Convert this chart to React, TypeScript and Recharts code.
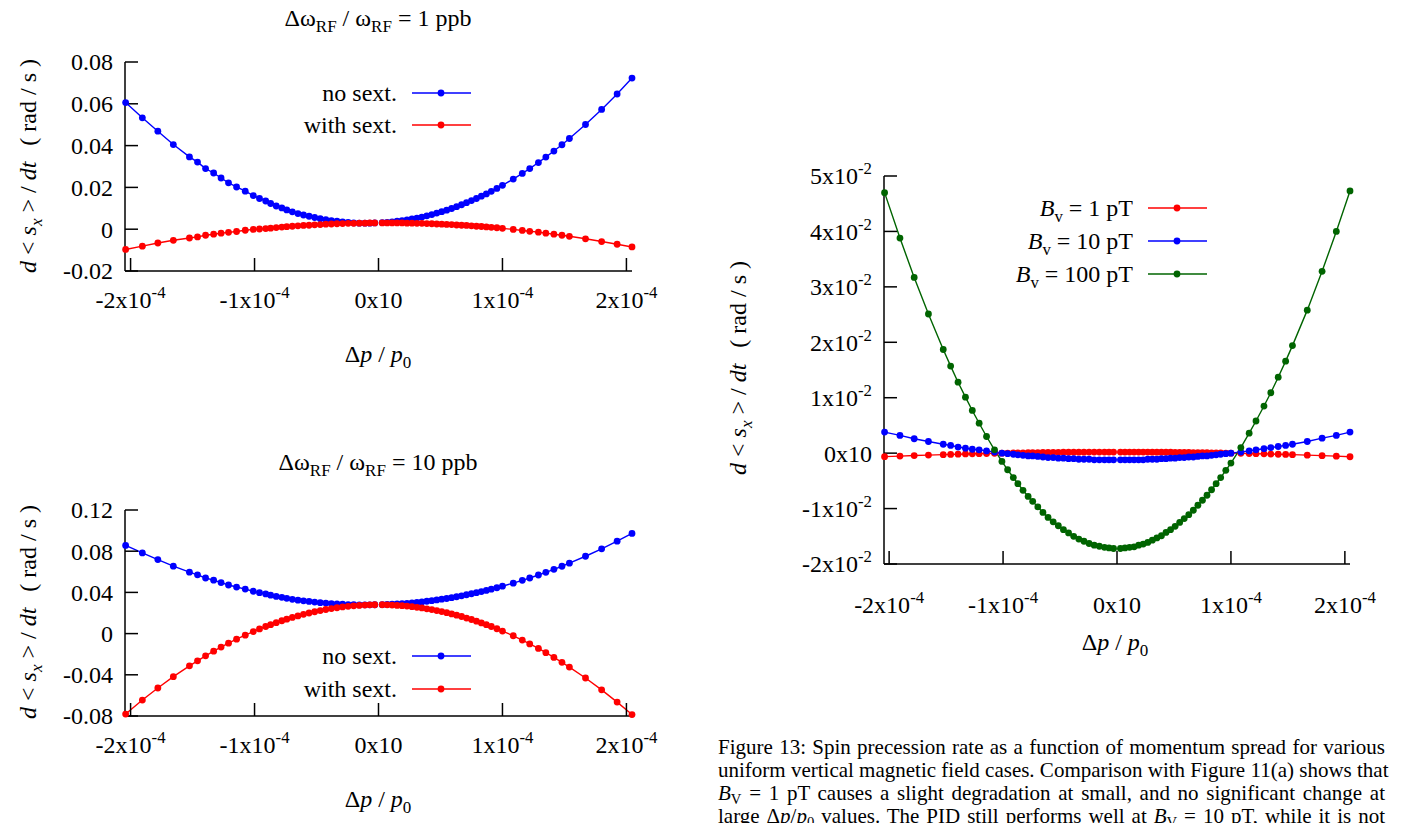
import React from "react";
import { LineChart, Line, XAxis, YAxis, Legend } from "recharts";

// Δp/p0 sample positions, in units of 1e-4 (left half, then right half)
const dpE4 = [
  -2.04, -1.905, -1.78, -1.655, -1.525, -1.46, -1.395, -1.33, -1.27, -1.21, -1.145, -1.075,
  -1.01, -0.96, -0.91, -0.87, -0.825, -0.78, -0.74, -0.695, -0.65, -0.605, -0.56, -0.515,
  -0.47, -0.425, -0.38, -0.335, -0.29, -0.245, -0.2, -0.155, -0.11, -0.07, -0.03,
  0.03, 0.07, 0.11, 0.15, 0.19, 0.23, 0.27, 0.31, 0.35, 0.39, 0.43, 0.47, 0.51, 0.55, 0.59,
  0.63, 0.67, 0.71, 0.75, 0.79, 0.83, 0.87, 0.91, 0.955, 1.0, 1.087, 1.16, 1.22, 1.29, 1.35,
  1.415, 1.48, 1.54, 1.67, 1.8, 1.925, 2.045,
];

// Δω_RF/ω_RF = 1 ppb
const noSext1ppb = [
  0.0606, 0.0533, 0.0469, 0.0405, 0.0346, 0.0321, 0.029, 0.0269, 0.0245, 0.0222, 0.0202, 0.0182,
  0.0161, 0.0147, 0.0135, 0.0123, 0.0111, 0.0102, 0.0092, 0.0083, 0.0075, 0.0068, 0.0062, 0.0056,
  0.005, 0.0046, 0.0041, 0.0038, 0.0035, 0.0032, 0.003, 0.0029, 0.0029, 0.0029, 0.003,
  0.0031, 0.0033, 0.0035, 0.0038, 0.0041, 0.0044, 0.0049, 0.0053, 0.0058, 0.0064, 0.007, 0.0077,
  0.0084, 0.0091, 0.0099, 0.0108, 0.0117, 0.0127, 0.0137, 0.0147, 0.0158, 0.0169, 0.0181, 0.0195,
  0.021, 0.024, 0.0267, 0.029, 0.0319, 0.0345, 0.0374, 0.0404, 0.0434, 0.0501, 0.0573, 0.0647, 0.0723,
];
const withSext1ppb = [
  -0.0097, -0.0081, -0.0066, -0.0053, -0.0042, -0.0037, -0.0029, -0.0024, -0.0019, -0.0015, -0.0011,
  -0.0005, -0.0001, 0.0001, 0.0003, 0.0005, 0.0008, 0.001, 0.0012, 0.0014, 0.0016, 0.0018, 0.0019,
  0.0021, 0.0022, 0.0024, 0.0025, 0.0026, 0.0027, 0.0028, 0.0028, 0.0029, 0.0029, 0.003, 0.003,
  0.003, 0.003, 0.003, 0.003, 0.003, 0.0029, 0.0029, 0.0028, 0.0028, 0.0027, 0.0026, 0.0025, 0.0024,
  0.0023, 0.0022, 0.002, 0.0019, 0.0018, 0.0016, 0.0014, 0.0013, 0.0011, 0.0009, 0.0007, 0.0004,
  -0.0001, -0.0006, -0.001, -0.0014, -0.0019, -0.0024, -0.0029, -0.0034, -0.0046, -0.0059, -0.0072, -0.0085,
];

// Δω_RF/ω_RF = 10 ppb
const noSext10ppb = [
  0.0856, 0.0783, 0.0719, 0.0655, 0.0596, 0.0571, 0.054, 0.0519, 0.0495, 0.0472, 0.0452, 0.0432,
  0.0411, 0.0397, 0.0385, 0.0373, 0.0361, 0.0352, 0.0342, 0.0333, 0.0325, 0.0318, 0.0312, 0.0306,
  0.03, 0.0296, 0.0291, 0.0288, 0.0285, 0.0282, 0.028, 0.0279, 0.0279, 0.0279, 0.028,
  0.0281, 0.0283, 0.0285, 0.0288, 0.0291, 0.0294, 0.0299, 0.0303, 0.0308, 0.0314, 0.032, 0.0327,
  0.0334, 0.0341, 0.0349, 0.0358, 0.0367, 0.0377, 0.0387, 0.0397, 0.0408, 0.0419, 0.0431, 0.0445,
  0.046, 0.049, 0.0517, 0.054, 0.0569, 0.0595, 0.0624, 0.0654, 0.0684, 0.0751, 0.0823, 0.0897, 0.0973,
];
const withSext10ppb = [
  -0.0781, -0.0645, -0.0528, -0.0418, -0.0313, -0.0264, -0.0216, -0.0171, -0.0131, -0.0093, -0.0054,
  -0.0015, 0.002, 0.0045, 0.0069, 0.0087, 0.0106, 0.0125, 0.014, 0.0157, 0.0172, 0.0187, 0.02,
  0.0212, 0.0224, 0.0234, 0.0243, 0.0251, 0.0259, 0.0265, 0.027, 0.0274, 0.0277, 0.0279, 0.028,
  0.028, 0.0279, 0.0277, 0.0274, 0.0271, 0.0267, 0.0261, 0.0255, 0.0249, 0.0241, 0.0233, 0.0224,
  0.0214, 0.0203, 0.0191, 0.0179, 0.0166, 0.0151, 0.0137, 0.0121, 0.0104, 0.0087, 0.0069, 0.0047,
  0.0025, -0.0021, -0.0063, -0.01, -0.0144, -0.0185, -0.0231, -0.0279, -0.0325, -0.0431, -0.0546,
  -0.0665, -0.0786,
];

// uniform vertical field cases
const bv1pT = [
  -0.00063, -0.00053, -0.00043, -0.00035, -0.00027, -0.00023, -0.00019, -0.00015, -0.00012, -0.00009,
  -0.00006, -0.00003, 0.0, 0.00002, 0.00003, 0.00005, 0.00006, 0.00008, 0.00009, 0.0001, 0.00012,
  0.00013, 0.00014, 0.00015, 0.00016, 0.00016, 0.00017, 0.00018, 0.00018, 0.00019, 0.00019, 0.0002,
  0.0002, 0.0002, 0.0002,
  0.0002, 0.0002, 0.0002, 0.0002, 0.00019, 0.00019, 0.00019, 0.00018, 0.00018, 0.00017, 0.00016,
  0.00016, 0.00015, 0.00014, 0.00013, 0.00012, 0.00011, 0.0001, 0.00009, 0.00008, 0.00006, 0.00005,
  0.00003, 0.00002, 0.0, -0.00004, -0.00007, -0.0001, -0.00013, -0.00016, -0.0002, -0.00024, -0.00027,
  -0.00036, -0.00045, -0.00054, -0.00065,
];
const bv10pT = [
  0.0038, 0.0032, 0.0026, 0.0021, 0.0016, 0.0014, 0.0011, 0.0009, 0.0007, 0.0006, 0.0004, 0.0002,
  0.0, -0.0001, -0.0002, -0.0003, -0.0004, -0.0005, -0.0005, -0.0006, -0.0007, -0.0008, -0.0008,
  -0.0009, -0.0009, -0.001, -0.001, -0.0011, -0.0011, -0.0011, -0.0012, -0.0012, -0.0012, -0.0012, -0.0012,
  -0.0012, -0.0012, -0.0012, -0.0012, -0.0012, -0.0012, -0.0011, -0.0011, -0.0011, -0.001, -0.001,
  -0.0009, -0.0009, -0.0008, -0.0008, -0.0007, -0.0007, -0.0006, -0.0005, -0.0005, -0.0004, -0.0003,
  -0.0002, -0.0001, 0.0, 0.0002, 0.0004, 0.0006, 0.0008, 0.001, 0.0012, 0.0014, 0.0016, 0.0021,
  0.0027, 0.0032, 0.0038,
];
const bv100pT = [
  0.047, 0.0388, 0.0317, 0.0251, 0.0187, 0.0157, 0.0128, 0.0101, 0.0077, 0.0054, 0.003, 0.0006,
  -0.0015, -0.003, -0.0044, -0.0055, -0.0067, -0.0078, -0.0087, -0.0097, -0.0107, -0.0116, -0.0124,
  -0.0131, -0.0138, -0.0144, -0.015, -0.0155, -0.0159, -0.0163, -0.0166, -0.0168, -0.017, -0.0171, -0.0172,
  -0.0172, -0.0171, -0.017, -0.0169, -0.0166, -0.0164, -0.0161, -0.0157, -0.0153, -0.0149, -0.0143,
  -0.0138, -0.0132, -0.0125, -0.0118, -0.0111, -0.0103, -0.0094, -0.0085, -0.0076, -0.0066, -0.0055,
  -0.0044, -0.0031, -0.0018, 0.001, 0.0036, 0.0058, 0.0085, 0.0109, 0.0137, 0.0166, 0.0194, 0.0258,
  0.0328, 0.04, 0.0473,
];

const xTicks = [-2, -1, 0, 1, 2];
const xTickText = [["-2x10", "-4"], ["-1x10", "-4"], ["0x10", ""], ["1x10", "-4"], ["2x10", "-4"]];
const yTicks1ppb = [-0.02, 0, 0.02, 0.04, 0.06, 0.08];
const yTickText1ppb = [["-0.02", ""], ["0", ""], ["0.02", ""], ["0.04", ""], ["0.06", ""], ["0.08", ""]];
const yTicks10ppb = [-0.08, -0.04, 0, 0.04, 0.08, 0.12];
const yTickText10ppb = [["-0.08", ""], ["-0.04", ""], ["0", ""], ["0.04", ""], ["0.08", ""], ["0.12", ""]];
const yTicksBv = [-0.02, -0.01, 0, 0.01, 0.02, 0.03, 0.04, 0.05];
const yTickTextBv = [
  ["-2x10", "-2"], ["-1x10", "-2"], ["0x10", ""], ["1x10", "-2"],
  ["2x10", "-2"], ["3x10", "-2"], ["4x10", "-2"], ["5x10", "-2"],
];

const BLUE = "#0000ff";
const RED = "#ff0000";
const GREEN = "#006400";
const SERIF = "'Liberation Serif', 'Times New Roman', serif";
const FS = 24;
const TICK = 13;

type Series = { key: string; name: string; color: string; values: number[] };

function buildRows(series: Series[]) {
  const rows: any[] = [];
  dpE4.forEach((x, i) => {
    // the two halves are separate runs in the source plot
    if (i > 0 && dpE4[i - 1] < 0 && x > 0) {
      const gap: any = { x: 0 };
      series.forEach((s) => (gap[s.key] = null));
      rows.push(gap);
    }
    const row: any = { x };
    series.forEach((s) => (row[s.key] = s.values[i]));
    rows.push(row);
  });
  return rows;
}

function AxisTick(props: any) {
  const { x, y, payload, ticks, labels, axis } = props;
  const idx = ticks.indexOf(payload.value);
  const [base, exp] = idx >= 0 ? labels[idx] : [String(payload.value), ""];
  return (
    <text
      x={x}
      y={y}
      dy={axis === "y" ? FS * 0.35 : 0}
      textAnchor={axis === "y" ? "end" : "middle"}
      fontFamily={SERIF}
      fontSize={FS}
      fill="#000"
    >
      {base}
      {exp ? (
        <tspan dy={-FS * 0.42} fontSize={FS * 0.7}>
          {exp}
        </tspan>
      ) : null}
    </text>
  );
}

function legendLabel(name: string) {
  if (name.startsWith("B_v")) {
    return (
      <>
        <tspan fontStyle="italic">B</tspan>
        <tspan dy={6} fontSize={FS * 0.7}>v</tspan>
        <tspan dy={-6}>{name.slice(3)}</tspan>
      </>
    );
  }
  return name;
}

function LegendBox({ payload, width, height, textRight, rowTop, rowGap }: any) {
  return (
    <svg width={width} height={height} style={{ display: "block" }}>
      {(payload || []).map((e: any, i: number) => {
        const cy = rowTop + i * rowGap;
        return (
          <g key={i}>
            <text x={textRight} y={cy} dy={FS * 0.35} textAnchor="end" fontFamily={SERIF} fontSize={FS} fill="#000">
              {legendLabel(e.value)}
            </text>
            <line x1={textRight + 15} x2={textRight + 74} y1={cy} y2={cy} stroke={e.color} strokeWidth={1.4} />
            <circle cx={textRight + 44} cy={cy} r={3.4} fill={e.color} />
          </g>
        );
      })}
    </svg>
  );
}

function Panel({ left, top, width, height, margin, yDomain, yTicks, yTickText, series, xTickMargin, legend }: any) {
  const rows = buildRows(series);
  const axisLine = { stroke: "#000", strokeWidth: 1.5 };
  const tickLine = { stroke: "#000", strokeWidth: 1.5 };
  const xDomain = [-2.045, 2.045];
  return (
    <div style={{ position: "absolute", left, top }}>
      <LineChart width={width} height={height} data={rows} margin={margin}>
        <XAxis
          xAxisId="b"
          dataKey="x"
          type="number"
          domain={xDomain}
          ticks={xTicks}
          interval={0}
          height={50}
          tickSize={-TICK}
          tickMargin={xTickMargin}
          axisLine={axisLine}
          tickLine={tickLine}
          tick={<AxisTick ticks={xTicks} labels={xTickText} axis="x" />}
        />
        <XAxis
          xAxisId="t"
          orientation="top"
          dataKey="x"
          type="number"
          domain={xDomain}
          ticks={xTicks}
          interval={0}
          height={0}
          tickSize={-TICK}
          axisLine={axisLine}
          tickLine={tickLine}
          tickFormatter={() => ""}
        />
        <YAxis
          yAxisId="l"
          type="number"
          domain={yDomain}
          ticks={yTicks}
          interval={0}
          width={100}
          tickSize={-TICK}
          tickMargin={25}
          axisLine={axisLine}
          tickLine={tickLine}
          tick={<AxisTick ticks={yTicks} labels={yTickText} axis="y" />}
        />
        <YAxis
          yAxisId="r"
          orientation="right"
          type="number"
          domain={yDomain}
          ticks={yTicks}
          interval={0}
          width={0}
          tickSize={-TICK}
          axisLine={axisLine}
          tickLine={tickLine}
          tickFormatter={() => ""}
        />
        {series.map((s: Series) => (
          <Line
            key={s.key}
            xAxisId="b"
            yAxisId="l"
            dataKey={s.key}
            name={s.name}
            stroke={s.color}
            strokeWidth={1.4}
            dot={{ r: 3.4, fill: s.color, stroke: s.color, strokeWidth: 0 }}
            activeDot={false}
            connectNulls={false}
            isAnimationActive={false}
          />
        ))}
        <Legend
          layout="vertical"
          align="center"
          verticalAlign="middle"
          wrapperStyle={{ position: "absolute", left: 0, top: 0, width, height, pointerEvents: "none" }}
          content={(p: any) => <LegendBox payload={p.payload} width={width} height={height} {...legend} />}
        />
      </LineChart>
    </div>
  );
}

function Title({ x, y, ppb }: { x: number; y: number; ppb: string }) {
  return (
    <text x={x} y={y} textAnchor="middle" fontFamily={SERIF} fontSize={FS} fill="#000">
      Δω<tspan dy={6} fontSize={17}>RF</tspan>
      <tspan dy={-6}>{" / ω"}</tspan>
      <tspan dy={6} fontSize={17}>RF</tspan>
      <tspan dy={-6}>{` = ${ppb} ppb`}</tspan>
    </text>
  );
}

function XLabel({ x, y }: { x: number; y: number }) {
  return (
    <text x={x} y={y} textAnchor="middle" fontFamily={SERIF} fontSize={FS} fill="#000">
      Δ<tspan fontStyle="italic">p</tspan>
      {" / "}
      <tspan fontStyle="italic">p</tspan>
      <tspan dy={6} fontSize={17}>0</tspan>
    </text>
  );
}

function YLabel({ x, y }: { x: number; y: number }) {
  return (
    <text
      transform={`translate(${x},${y}) rotate(-90)`}
      textAnchor="middle"
      fontFamily={SERIF}
      fontSize={FS}
      fill="#000"
    >
      <tspan fontStyle="italic">d</tspan>
      {" < "}
      <tspan fontStyle="italic">s</tspan>
      <tspan fontStyle="italic" dy={6} fontSize={17}>x</tspan>
      <tspan dy={-6}>{" > / "}</tspan>
      <tspan fontStyle="italic">dt</tspan>
      <tspan dx={16}>{"(  rad / s  )"}</tspan>
    </text>
  );
}

const subStyle: React.CSSProperties = { fontSize: "0.7em", verticalAlign: "-0.25em", lineHeight: 0 };
const lineStyle: React.CSSProperties = { textAlign: "justify", textAlignLast: "justify", whiteSpace: "nowrap" };

export default function App() {
  const series1: Series[] = [
    { key: "noSext", name: "no sext.", color: BLUE, values: noSext1ppb },
    { key: "withSext", name: "with sext.", color: RED, values: withSext1ppb },
  ];
  const series10: Series[] = [
    { key: "noSext", name: "no sext.", color: BLUE, values: noSext10ppb },
    { key: "withSext", name: "with sext.", color: RED, values: withSext10ppb },
  ];
  const seriesBv: Series[] = [
    { key: "bv1", name: "B_v = 1 pT", color: RED, values: bv1pT },
    { key: "bv10", name: "B_v = 10 pT", color: BLUE, values: bv10pT },
    { key: "bv100", name: "B_v = 100 pT", color: GREEN, values: bv100pT },
  ];

  return (
    <div
      style={{
        position: "absolute",
        left: 0,
        top: 0,
        width: 1405,
        height: 823,
        overflow: "hidden",
        background: "#fff",
      }}
    >
      <Panel
        left={0}
        top={0}
        width={680}
        height={330}
        margin={{ top: 62, right: 48, bottom: 9, left: 25 }}
        yDomain={[-0.02, 0.08]}
        yTicks={yTicks1ppb}
        yTickText={yTickText1ppb}
        series={series1}
        xTickMargin={50}
        legend={{ textRight: 397, rowTop: 93, rowGap: 32 }}
      />
      <Panel
        left={0}
        top={440}
        width={680}
        height={330}
        margin={{ top: 70, right: 48, bottom: 4, left: 25 }}
        yDomain={[-0.08, 0.12]}
        yTicks={yTicks10ppb}
        yTickText={yTickText10ppb}
        series={series10}
        xTickMargin={50}
        legend={{ textRight: 397, rowTop: 216, rowGap: 33 }}
      />
      <Panel
        left={700}
        top={150}
        width={705}
        height={480}
        margin={{ top: 26, right: 55, bottom: 16, left: 84 }}
        yDomain={[-0.02, 0.05]}
        yTicks={yTicksBv}
        yTickText={yTickTextBv}
        series={seriesBv}
        xTickMargin={62}
        legend={{ textRight: 433, rowTop: 58, rowGap: 33 }}
      />

      <svg width={1405} height={823} style={{ position: "absolute", left: 0, top: 0, pointerEvents: "none" }}>
        <Title x={378} y={26} ppb="1" />
        <Title x={378} y={470} ppb="10" />
        <XLabel x={378} y={362} />
        <XLabel x={378} y={807} />
        <XLabel x={1115} y={650} />
        <YLabel x={36} y={166} />
        <YLabel x={36} y={612} />
        <YLabel x={746} y={368} />
      </svg>

      <div
        style={{
          position: "absolute",
          left: 718,
          top: 736,
          width: 667,
          fontFamily: SERIF,
          fontSize: 21,
          lineHeight: "23px",
          color: "#000",
        }}
      >
        <div style={lineStyle}>Figure 13: Spin precession rate as a function of momentum spread for various</div>
        <div style={lineStyle}>uniform vertical magnetic field cases. Comparison with Figure 11(a) shows that</div>
        <div style={lineStyle}>
          <i>B</i>
          <span style={subStyle}>V</span> = 1 pT causes a slight degradation at small, and no significant change at
        </div>
        <div style={lineStyle}>
          large Δ<i>p</i>/<i>p</i>
          <span style={subStyle}>0</span> values. The PID still performs well at <i>B</i>
          <span style={subStyle}>V</span> = 10 pT, while it is not
        </div>
      </div>
    </div>
  );
}
